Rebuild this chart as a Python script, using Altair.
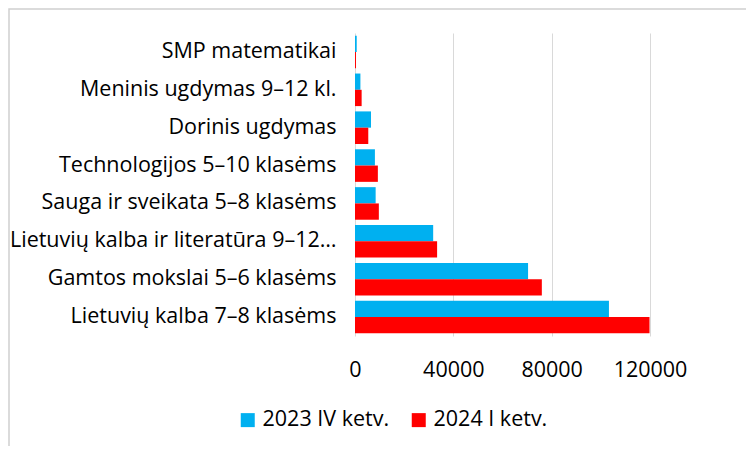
import altair as alt
import pandas as pd

categories = [
    "SMP matematikai",
    "Meninis ugdymas 9–12 kl.",
    "Dorinis ugdymas",
    "Technologijos 5–10 klasėms",
    "Sauga ir sveikata 5–8 klasėms",
    "Lietuvių kalba ir literatūra 9–12…",
    "Gamtos mokslai 5–6 klasėms",
    "Lietuvių kalba 7–8 klasėms",
]
series = ["2023 IV ketv.", "2024 I ketv."]
values_2023 = [700, 2200, 6500, 8100, 8400, 31800, 70400, 103300]
values_2024 = [400, 2700, 5400, 9300, 9700, 33400, 76000, 119800]
colors = ["#00B0F0", "#FF0000"]
x_ticks = [0, 40000, 80000, 120000]

rows = []
for c, a, b in zip(categories, values_2023, values_2024):
    rows.append({"category": c, "series": series[0], "value": a})
    rows.append({"category": c, "series": series[1], "value": b})
df = pd.DataFrame(rows)

FONT = "Open Sans"
FS = 21.5

border = alt.Chart(pd.DataFrame({"a": [0]})).mark_rect(
    filled=False, stroke="#d0d0d0", strokeWidth=1.5
).encode(
    x=alt.value(-346), x2=alt.value(405), y=alt.value(-24), y2=alt.value(430)
)

bars = alt.Chart(df).mark_bar().encode(
    y=alt.Y(
        "category:N",
        sort=categories,
        scale=alt.Scale(paddingInner=0.14, paddingOuter=0.07),
        axis=alt.Axis(
            title=None, labelFontSize=FS, labelPadding=19, ticks=False,
            domain=False, grid=False, labelColor="#000000", labelFont=FONT,
            labelLimit=400,
        ),
    ),
    x=alt.X(
        "value:Q",
        scale=alt.Scale(domain=[0, 120000], nice=False),
        axis=alt.Axis(
            values=x_ticks, title=None, grid=True, gridColor="#d9d9d9",
            domain=False, ticks=False, labelPadding=23, labelFontSize=FS,
            format="d", labelColor="#000000", labelFont=FONT,
            labelFlush=False, labelOverlap=False,
        ),
    ),
    yOffset=alt.YOffset("series:N", sort=series),
    color=alt.Color(
        "series:N",
        scale=alt.Scale(domain=series, range=colors),
        legend=alt.Legend(
            orient="none", legendX=-118, legendY=376, direction="horizontal",
            title=None, symbolType="square", symbolSize=196, labelFontSize=FS,
            labelFont=FONT, labelColor="#000000", columnPadding=18,
            symbolStrokeWidth=0, labelOffset=4,
        ),
    ),
)

chart = alt.layer(border, bars).properties(
    width=295,
    height=303,
    autosize=alt.AutoSizeParams(type="none"),
    padding={"left": 347, "top": 25, "right": 96, "bottom": 110},
).configure_view(stroke=None)

chart.save("out.html", embed_options={"renderer": "svg", "actions": False})
